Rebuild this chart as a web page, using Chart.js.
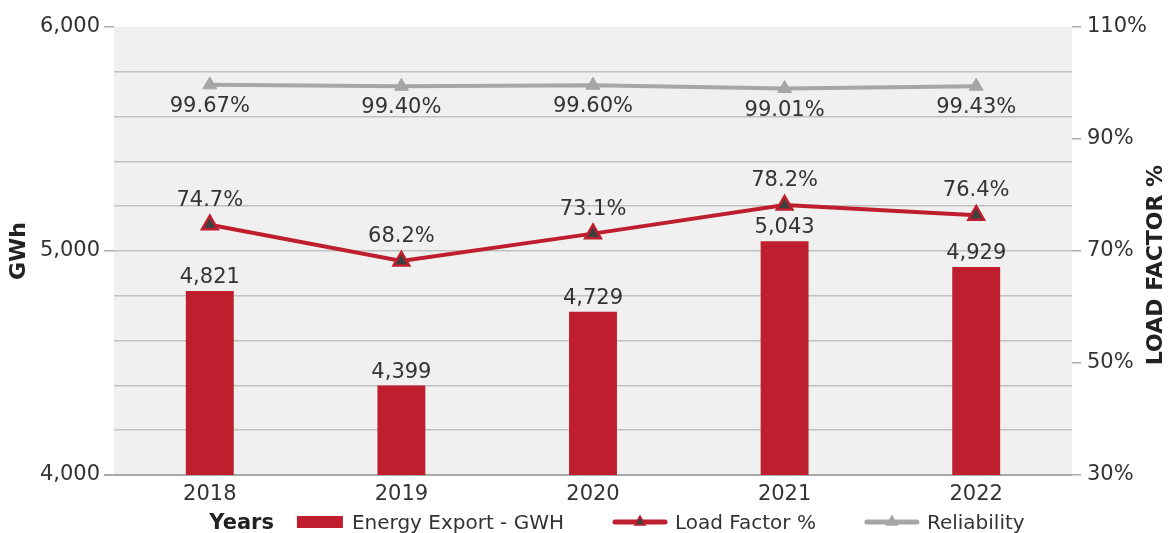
<!DOCTYPE html>
<html>
<head>
<meta charset="utf-8">
<title>Energy Export</title>
<script src="https://cdn.jsdelivr.net/npm/chart.js@4.4.1/dist/chart.umd.min.js"></script>
<style>
  html, body { margin: 0; padding: 0; background: #fff; }
  #wrap { width: 1172px; height: 533px; }
</style>
</head>
<body>
<div id="wrap"><canvas id="energy-chart" width="1172" height="533"></canvas></div>
<script>
const years = ['2018', '2019', '2020', '2021', '2022'];
const energyExport = [4821, 4399, 4729, 5043, 4929];
const loadFactor = [74.7, 68.2, 73.1, 78.2, 76.4];
const reliability = [99.67, 99.40, 99.60, 99.01, 99.43];
const gwhTicks = [4000, 5000, 6000];

const FONT = '"DejaVu Sans", sans-serif';
const RED = '#be1e2d';
const GREY = '#a6a6a6';
const TEXT = '#333333';

Chart.defaults.font.family = FONT;
Chart.defaults.color = TEXT;

// light grey plot background
const plotBackground = {
  id: 'plotBackground',
  beforeDraw(chart) {
    const { ctx, chartArea: a } = chart;
    ctx.save();
    ctx.fillStyle = '#f0f0f0';
    ctx.fillRect(a.left, a.top, a.right - a.left, a.bottom - a.top);
    ctx.restore();
  }
};

// value labels above bars / line points, below reliability points
const valueLabels = {
  id: 'valueLabels',
  afterDatasetsDraw(chart) {
    const ctx = chart.ctx;
    ctx.save();
    ctx.font = '21px ' + FONT;
    ctx.fillStyle = TEXT;
    ctx.textAlign = 'center';
    ctx.textBaseline = 'alphabetic';
    chart.data.datasets.forEach((ds, i) => {
      const meta = chart.getDatasetMeta(i);
      meta.data.forEach((el, j) => {
        const v = ds.data[j];
        let text, y;
        if (ds.type === 'bar') {
          text = v.toLocaleString('en-US');
          y = el.y - 8;
        } else if (ds.labelBelow) {
          text = v.toFixed(2) + '%';
          y = el.y + 27;
        } else {
          text = v.toFixed(1) + '%';
          y = el.y - 19;
        }
        ctx.fillText(text, el.x, y);
      });
    });
    ctx.restore();
  }
};

// right axis title (reads bottom to top) and the bottom legend with "Years"
const extras = {
  id: 'extras',
  afterDraw(chart) {
    const { ctx, chartArea: a } = chart;
    ctx.save();

    ctx.font = 'bold 22px ' + FONT;
    ctx.fillStyle = '#222';
    ctx.textAlign = 'center';
    ctx.textBaseline = 'middle';
    ctx.translate(chart.width - 16, (a.top + a.bottom) / 2 + 14);
    ctx.rotate(-Math.PI / 2);
    ctx.fillText('LOAD FACTOR %', 0, 0);
    ctx.setTransform(1, 0, 0, 1, 0, 0);

    const base = chart.height - 4;
    const mid = base - 7;
    ctx.textAlign = 'left';
    ctx.textBaseline = 'alphabetic';
    ctx.font = 'bold 21px ' + FONT;
    const titleW = ctx.measureText('Years').width;
    ctx.font = '20px ' + FONT;
    const items = chart.data.datasets.map(ds => ({
      ds,
      sw: ds.type === 'bar' ? 46 : 56,
      gap: ds.type === 'bar' ? 9 : 7,
      w: ctx.measureText(ds.label).width
    }));
    let total = titleW + 23;
    items.forEach((it, k) => { total += it.sw + it.gap + it.w + (k < items.length - 1 ? 48 : 0); });
    let x = 617 - total / 2;

    ctx.font = 'bold 21px ' + FONT;
    ctx.fillStyle = '#222';
    ctx.fillText('Years', x, base);
    x += titleW + 23;

    items.forEach(it => {
      const ds = it.ds;
      if (ds.type === 'bar') {
        ctx.fillStyle = ds.backgroundColor;
        ctx.fillRect(x, mid - 6, it.sw, 12);
      } else {
        ctx.strokeStyle = ds.borderColor;
        ctx.lineWidth = 5;
        ctx.lineCap = 'round';
        ctx.beginPath();
        ctx.moveTo(x + 3, mid);
        ctx.lineTo(x + it.sw - 3, mid);
        ctx.stroke();
        const cx = x + it.sw / 2, r = 6;
        ctx.beginPath();
        ctx.moveTo(cx, mid - r);
        ctx.lineTo(cx + r * 0.866, mid + r / 2);
        ctx.lineTo(cx - r * 0.866, mid + r / 2);
        ctx.closePath();
        ctx.fillStyle = ds.pointBackgroundColor;
        ctx.fill();
        ctx.lineWidth = 1.5;
        ctx.strokeStyle = ds.pointBorderColor;
        ctx.stroke();
      }
      x += it.sw + it.gap;
      ctx.font = '20px ' + FONT;
      ctx.fillStyle = TEXT;
      ctx.fillText(ds.label, x, base);
      x += it.w + 48;
    });
    ctx.restore();
  }
};

new Chart(document.getElementById('energy-chart'), {
  data: {
    labels: years,
    datasets: [
      {
        type: 'bar',
        label: 'Energy Export - GWH',
        data: energyExport,
        backgroundColor: RED,
        barPercentage: 0.25,
        categoryPercentage: 1,
        yAxisID: 'y',
        order: 3
      },
      {
        type: 'line',
        label: 'Load Factor %',
        data: loadFactor,
        borderColor: RED,
        borderWidth: 4,
        pointStyle: 'triangle',
        pointRadius: 9,
        pointBackgroundColor: '#404040',
        pointBorderColor: RED,
        pointBorderWidth: 2.5,
        tension: 0,
        yAxisID: 'y1',
        order: 1
      },
      {
        type: 'line',
        label: 'Reliability',
        data: reliability,
        labelBelow: true,
        borderColor: GREY,
        borderWidth: 4,
        pointStyle: 'triangle',
        pointRadius: 8,
        pointBackgroundColor: GREY,
        pointBorderColor: GREY,
        pointBorderWidth: 1,
        tension: 0,
        yAxisID: 'y1',
        order: 2
      }
    ]
  },
  options: {
    responsive: false,
    animation: false,
    devicePixelRatio: 1,
    layout: { padding: { top: 27, left: 0, right: 0, bottom: 0 } },
    plugins: {
      legend: { display: false },
      tooltip: { enabled: false }
    },
    scales: {
      x: {
        grid: { display: false, drawTicks: false },
        border: { display: false },
        ticks: { color: TEXT, font: { size: 21 }, padding: 7 },
        afterFit: s => { s.height = 58; }
      },
      y: {
        position: 'left',
        min: 4000,
        max: 6000,
        ticks: {
          stepSize: 200,
          padding: 4,
          color: TEXT,
          font: { size: 21 },
          callback: v => gwhTicks.includes(v) ? v.toLocaleString('en-US') : ''
        },
        grid: {
          color: c => c.tick.value === 6000 ? 'rgba(0,0,0,0)' : (c.tick.value === 4000 ? '#a8a8a8' : '#c0c0c0'),
          lineWidth: c => c.tick.value === 4000 ? 2 : 1.5,
          tickLength: 10,
          tickColor: c => gwhTicks.includes(c.tick.value) ? '#a8a8a8' : 'rgba(0,0,0,0)'
        },
        border: { display: false },
        title: {
          display: true,
          text: 'GWh',
          color: '#222',
          font: { size: 22, weight: 'bold' },
          padding: { top: 6, bottom: 0 }
        },
        afterFit: s => { s.width = 114; }
      },
      y1: {
        position: 'right',
        min: 30,
        max: 110,
        ticks: {
          stepSize: 20,
          padding: 6,
          color: TEXT,
          font: { size: 21 },
          callback: v => v + '%'
        },
        grid: { drawOnChartArea: false, tickLength: 9, tickColor: '#a8a8a8', lineWidth: 1.5 },
        border: { display: false },
        afterFit: s => { s.width = 100; }
      }
    }
  },
  plugins: [plotBackground, valueLabels, extras]
});
</script>
</body>
</html>
